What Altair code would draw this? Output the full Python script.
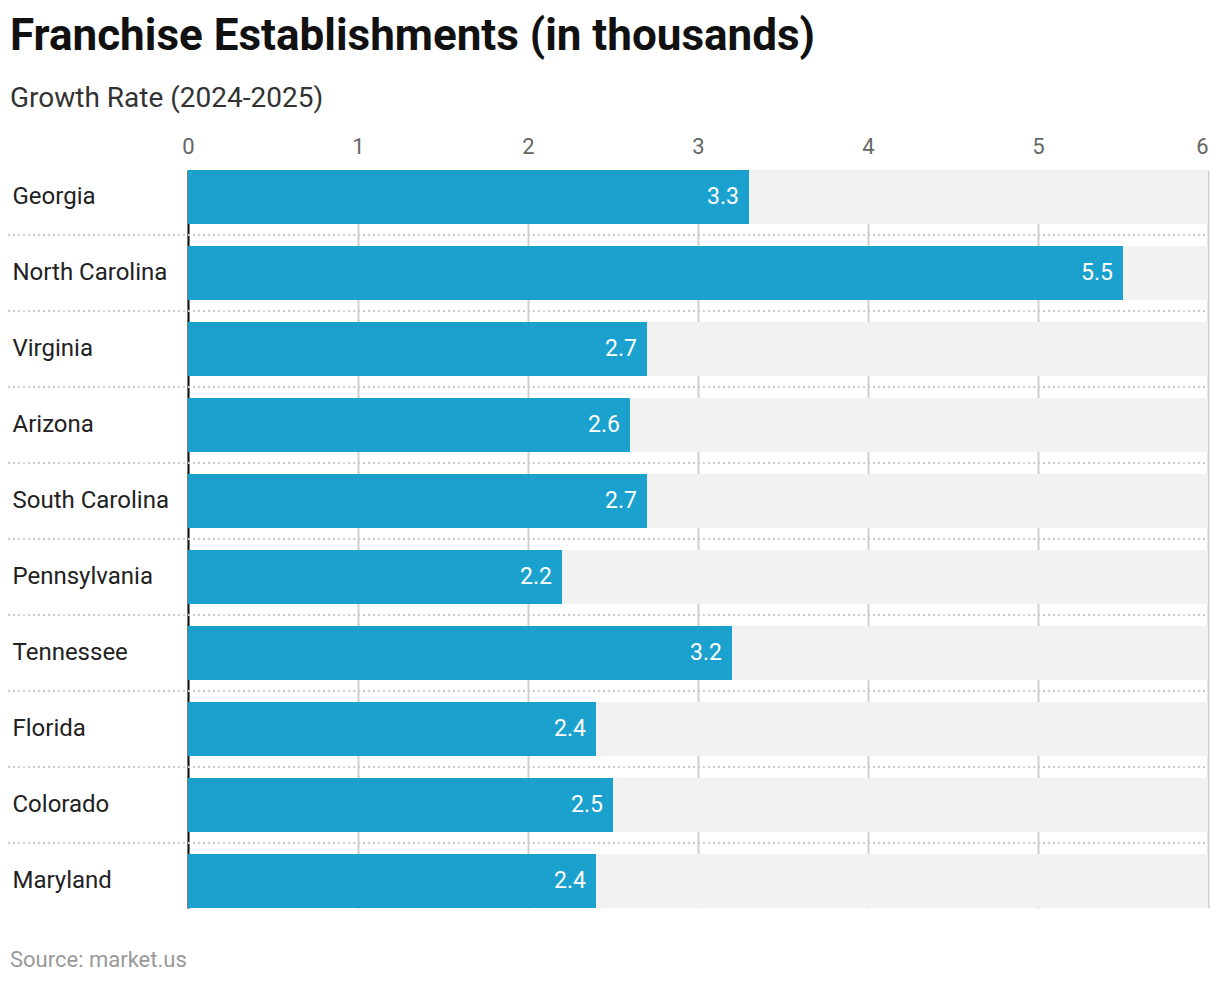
import altair as alt
import pandas as pd

states = ["Georgia", "North Carolina", "Virginia", "Arizona", "South Carolina",
          "Pennsylvania", "Tennessee", "Florida", "Colorado", "Maryland"]
values = [3.3, 5.5, 2.7, 2.6, 2.7, 2.2, 3.2, 2.4, 2.5, 2.4]
axis_max = 6
ticks = [0, 1, 2, 3, 4, 5, 6]

df = pd.DataFrame({"state": states, "value": values, "full": [axis_max] * len(states)})
sep_df = pd.DataFrame({"state": states[:-1]})
src_df = pd.DataFrame({"t": ["Source: market.us"]})

W, H = 1020, 738
FONT = "Roboto"

yscale = alt.Scale(domain=states, paddingInner=0.2895, paddingOuter=0)
xscale = alt.Scale(domain=[0, axis_max], nice=False)

y_enc = alt.Y("state:N", scale=yscale, sort=states,
              axis=alt.Axis(title=None, labelAlign="left", labelPadding=176, tickSize=0, ticks=False,
                            labelFontSize=24, labelColor="#222", labelFont=FONT,
                            domain=True, domainColor="#111", domainWidth=2, grid=False))

bg = alt.Chart(df).mark_bar(color="#f2f2f2").encode(
    y=y_enc,
    x=alt.X("full:Q", scale=xscale,
            axis=alt.Axis(orient="top", values=ticks, title=None, ticks=False, tickSize=0, format="d",
                          labelPadding=12, labelFontSize=22, labelColor="#666", labelFont=FONT,
                          labelAlign={"condition": {"test": f"datum.value == {axis_max}", "value": "right"},
                                      "value": "center"},
                          domain=False, grid=True, gridColor="#d0d0d0", gridWidth=2,
                          labelFlush=False)),
)

bars = alt.Chart(df).mark_bar(color="#1aa1ce").encode(
    y=alt.Y("state:N", scale=yscale, sort=states),
    x=alt.X("value:Q", scale=xscale),
)

labels = alt.Chart(df).mark_text(align="right", baseline="middle", dx=-10, color="white",
                                 fontSize=23, font=FONT).encode(
    y=alt.Y("state:N", scale=yscale, sort=states),
    x=alt.X("value:Q", scale=xscale),
    text=alt.Text("value:Q", format=".1f"),
)

seps = alt.Chart(sep_df).mark_rule(color="#cccccc", strokeWidth=2, strokeDash=[2, 3], yOffset=38).encode(
    y=alt.Y("state:N", scale=yscale, sort=states),
    x=alt.value(-180),
    x2=alt.value(W),
)

source = alt.Chart(src_df).mark_text(align="left", baseline="middle", fontSize=22, color="#999",
                                     font=FONT).encode(
    text="t:N",
    x=alt.value(-178),
    y=alt.value(H + 52),
)

chart = alt.layer(bg, seps, bars, labels, source).properties(
    width=W, height=H,
    padding={"left": 180, "top": 162, "right": 4, "bottom": 66},
    autosize=alt.AutoSizeParams(type="none"),
    title=alt.Title(
        "Franchise Establishments (in thousands)",
        subtitle="Growth Rate (2024-2025)",
        anchor="start", frame="group", dx=-178, offset=22,
        font=FONT, fontSize=44, fontWeight="bold", color="#111",
        subtitleFont=FONT, subtitleFontSize=28, subtitleColor="#333", subtitlePadding=26,
    ),
).configure_view(stroke=None)

chart.save("out.html", embed_options={"renderer": "svg", "actions": False})
